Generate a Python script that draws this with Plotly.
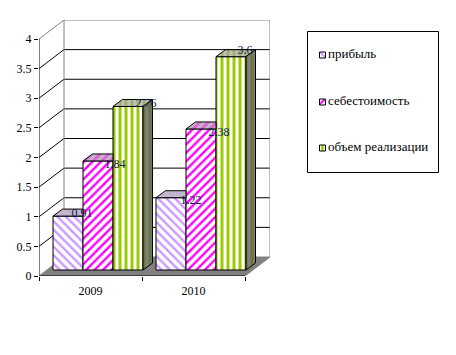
import plotly.graph_objects as go

years = ["2009", "2010"]
series_names = ["прибыль", "себестоимость", "объем реализации"]
profit = [0.91, 1.22]
cost = [1.84, 2.38]
sales = [2.76, 3.6]
y_ticks = [0, 0.5, 1, 1.5, 2, 2.5, 3, 3.5, 4]
y_labels = ["0", "0.5", "1", "1.5", "2", "2.5", "3", "3.5", "4"]

FONT = "Liberation Serif"
W, H = 456, 355
PX_X, PX_Y = 103.0, 59.25
WALL_DX, WALL_DY = 25 / PX_X, 19 / PX_Y
BAR_X0, BAR_BASE = 14 / PX_X, 6 / PX_Y
BAR_W = 30 / PX_X
TOP_DX, TOP_DY = 9.5 / PX_X, 7 / PX_Y

# per-label nudges in pixels (right, down) from the bar's top right front corner
LABEL_DX = [[-1, 5], [2, 3], [3, -1]]
LABEL_DY = [[-2, 3], [4, 4], [-2, -6]]

styles = [
    dict(fg="#cc99ff", shape="\\", side="#8f6bb3", top="#cc99ff", sol=0.4, size=6),
    dict(fg="#ff00ff", shape="/", side="#b300b3", top="#ff00ff", sol=0.4, size=6),
    dict(fg="#99cc00", shape="|", side="#4f6600", top="#7f9f10", sol=0.5, size=6),
]
SILVER = "#c0c0c0"
GREY = "#808080"
values = [profit, cost, sales]

fig = go.Figure()
shapes = []

# floor
shapes.append(dict(type="path", layer="below", xref="x", yref="y",
                   path=f"M 0 0 L 2 0 L {2 + WALL_DX} {WALL_DY} L {WALL_DX} {WALL_DY} Z",
                   fillcolor=GREY, line=dict(color=GREY, width=1)))
# wall grid
for t in y_ticks:
    col = GREY if t in (0, 4) else "black"
    if t > 0:
        shapes.append(dict(type="line", layer="below", xref="x", yref="y",
                           x0=0, y0=t, x1=WALL_DX, y1=t + WALL_DY, line=dict(color=col, width=1)))
        shapes.append(dict(type="line", layer="below", xref="x", yref="y",
                           x0=WALL_DX, y0=t + WALL_DY, x1=2 + WALL_DX, y1=t + WALL_DY,
                           line=dict(color=col, width=1)))
for xv in (WALL_DX, 2 + WALL_DX):
    shapes.append(dict(type="line", layer="below", xref="x", yref="y",
                       x0=xv, y0=WALL_DY, x1=xv, y1=4 + WALL_DY, line=dict(color=GREY, width=1)))
# front axes
shapes.append(dict(type="line", layer="above", xref="x", yref="y", x0=0, y0=0, x1=0, y1=4,
                   line=dict(color="black", width=1)))
shapes.append(dict(type="line", layer="above", xref="x", yref="y", x0=0, y0=0, x1=2, y1=0,
                   line=dict(color="black", width=1)))


def pattern(s, size=None):
    return dict(shape=s["shape"], fgcolor=s["fg"], bgcolor="white",
                size=size or s["size"], solidity=s["sol"], fillmode="replace")


# front faces
for i, name in enumerate(series_names):
    s = styles[i]
    xs = [g + BAR_X0 + (i + 0.5) * BAR_W for g in range(len(years))]
    fig.add_trace(go.Bar(
        x=xs, y=values[i], base=[BAR_BASE] * len(years), width=[BAR_W] * len(years),
        name=name, showlegend=False, hoverinfo="skip",
        marker=dict(color="white", line=dict(color="black", width=1), pattern=pattern(s)),
    ))


def poly(xs, ys, fg, bg, shape):
    fig.add_trace(go.Scatter(
        x=xs, y=ys, mode="lines", fill="toself", showlegend=False, hoverinfo="skip",
        line=dict(color="black", width=1), fillcolor=bg,
        fillpattern=dict(shape=shape, fgcolor=fg, bgcolor=bg, size=6, solidity=0.5),
    ))


# tops and right sides
for g in range(len(years)):
    for i in range(len(series_names)):
        s = styles[i]
        x0 = g + BAR_X0 + i * BAR_W
        x1 = x0 + BAR_W
        v = BAR_BASE + values[i][g]
        if i < 2:
            xs = [x0, x1, x1, x0 + TOP_DX, x0]
            ys = [v, v, v + TOP_DY, v + TOP_DY, v]
        else:
            xs = [x0, x1, x1 + TOP_DX, x0 + TOP_DX, x0]
            ys = [v, v, v + TOP_DY, v + TOP_DY, v]
        poly(xs, ys, s["top"], SILVER, s["shape"])
        if i == 2:
            poly([x1, x1 + TOP_DX, x1 + TOP_DX, x1, x1],
                 [BAR_BASE, BAR_BASE + TOP_DY, v + TOP_DY, v, BAR_BASE],
                 s["side"], GREY, "|")

# data labels
for i in range(len(series_names)):
    fig.add_trace(go.Scatter(
        x=[g + BAR_X0 + (i + 1) * BAR_W + LABEL_DX[i][g] / PX_X for g in range(len(years))],
        y=[BAR_BASE + values[i][g] - LABEL_DY[i][g] / PX_Y for g in range(len(years))],
        text=[f"{v:g}" for v in values[i]],
        mode="text", textposition="middle center", showlegend=False, hoverinfo="skip",
        cliponaxis=False,
        textfont=dict(family=FONT, size=12, color="#0a1a4a"),
    ))

# legend panel: its own pixel-scaled axes, so swatch and text sit as tight as in the reference
LEG_ROWS = [55, 102, 148]
for i, name in enumerate(series_names):
    s = styles[i]
    fig.add_trace(go.Bar(
        x=[322.5], y=[6], base=[LEG_ROWS[i] - 3], width=[6], xaxis="x2", yaxis="y2",
        showlegend=False, hoverinfo="skip",
        marker=dict(color="white", line=dict(color="black", width=1), pattern=pattern(s, 5)),
    ))
    fig.add_trace(go.Scatter(
        x=[328], y=[LEG_ROWS[i]], text=[name], mode="text", textposition="middle right",
        xaxis="x2", yaxis="y2", showlegend=False, hoverinfo="skip", cliponaxis=False,
        textfont=dict(family=FONT, size=13, color="black"),
    ))

shapes.append(dict(type="rect", layer="below", xref="x2", yref="y2", x0=307.5, x1=438.5, y0=31.5, y1=172.5,
                   line=dict(color="black", width=1), fillcolor="white"))

fig.update_layout(
    width=W, height=H, autosize=False,
    margin=dict(l=0, r=0, t=0, b=0, pad=0, autoexpand=False),
    paper_bgcolor="white", plot_bgcolor="rgba(0,0,0,0)",
    barmode="overlay", shapes=shapes, showlegend=False,
    font=dict(family=FONT, size=12, color="black"),
    xaxis=dict(domain=[39 / W, 270 / W], range=[0, 2 + WALL_DX], showgrid=False, zeroline=False, showline=False,
               tickmode="array", tickvals=[0.5, 1.5], ticktext=years, ticks="outside", ticklen=4,
               tickcolor="rgba(0,0,0,0)", tickfont=dict(family=FONT, size=12, color="black"),
               minor=dict(tickmode="array", tickvals=[0, 1, 2], ticks="outside", ticklen=4,
                          tickcolor="black", tickwidth=1, showgrid=False)),
    yaxis=dict(domain=[1 - 276 / H, 1 - 20 / H], range=[0, 256 / PX_Y], showgrid=False, zeroline=False, showline=False,
               tickmode="array", tickvals=y_ticks, ticktext=y_labels, ticks="outside", ticklen=4,
               tickcolor="black", tickwidth=1, tickfont=dict(family=FONT, size=12, color="black")),
    xaxis2=dict(domain=[300 / W, 445 / W], range=[300, 445], visible=False, anchor="y2"),
    yaxis2=dict(domain=[1 - 180 / H, 1 - 25 / H], range=[180, 25], visible=False, anchor="x2"),
)

fig.write_html("out.html", config=dict(displayModeBar=False, responsive=False),
               post_script="document.body.style.margin='0';document.documentElement.style.overflow='hidden';")
